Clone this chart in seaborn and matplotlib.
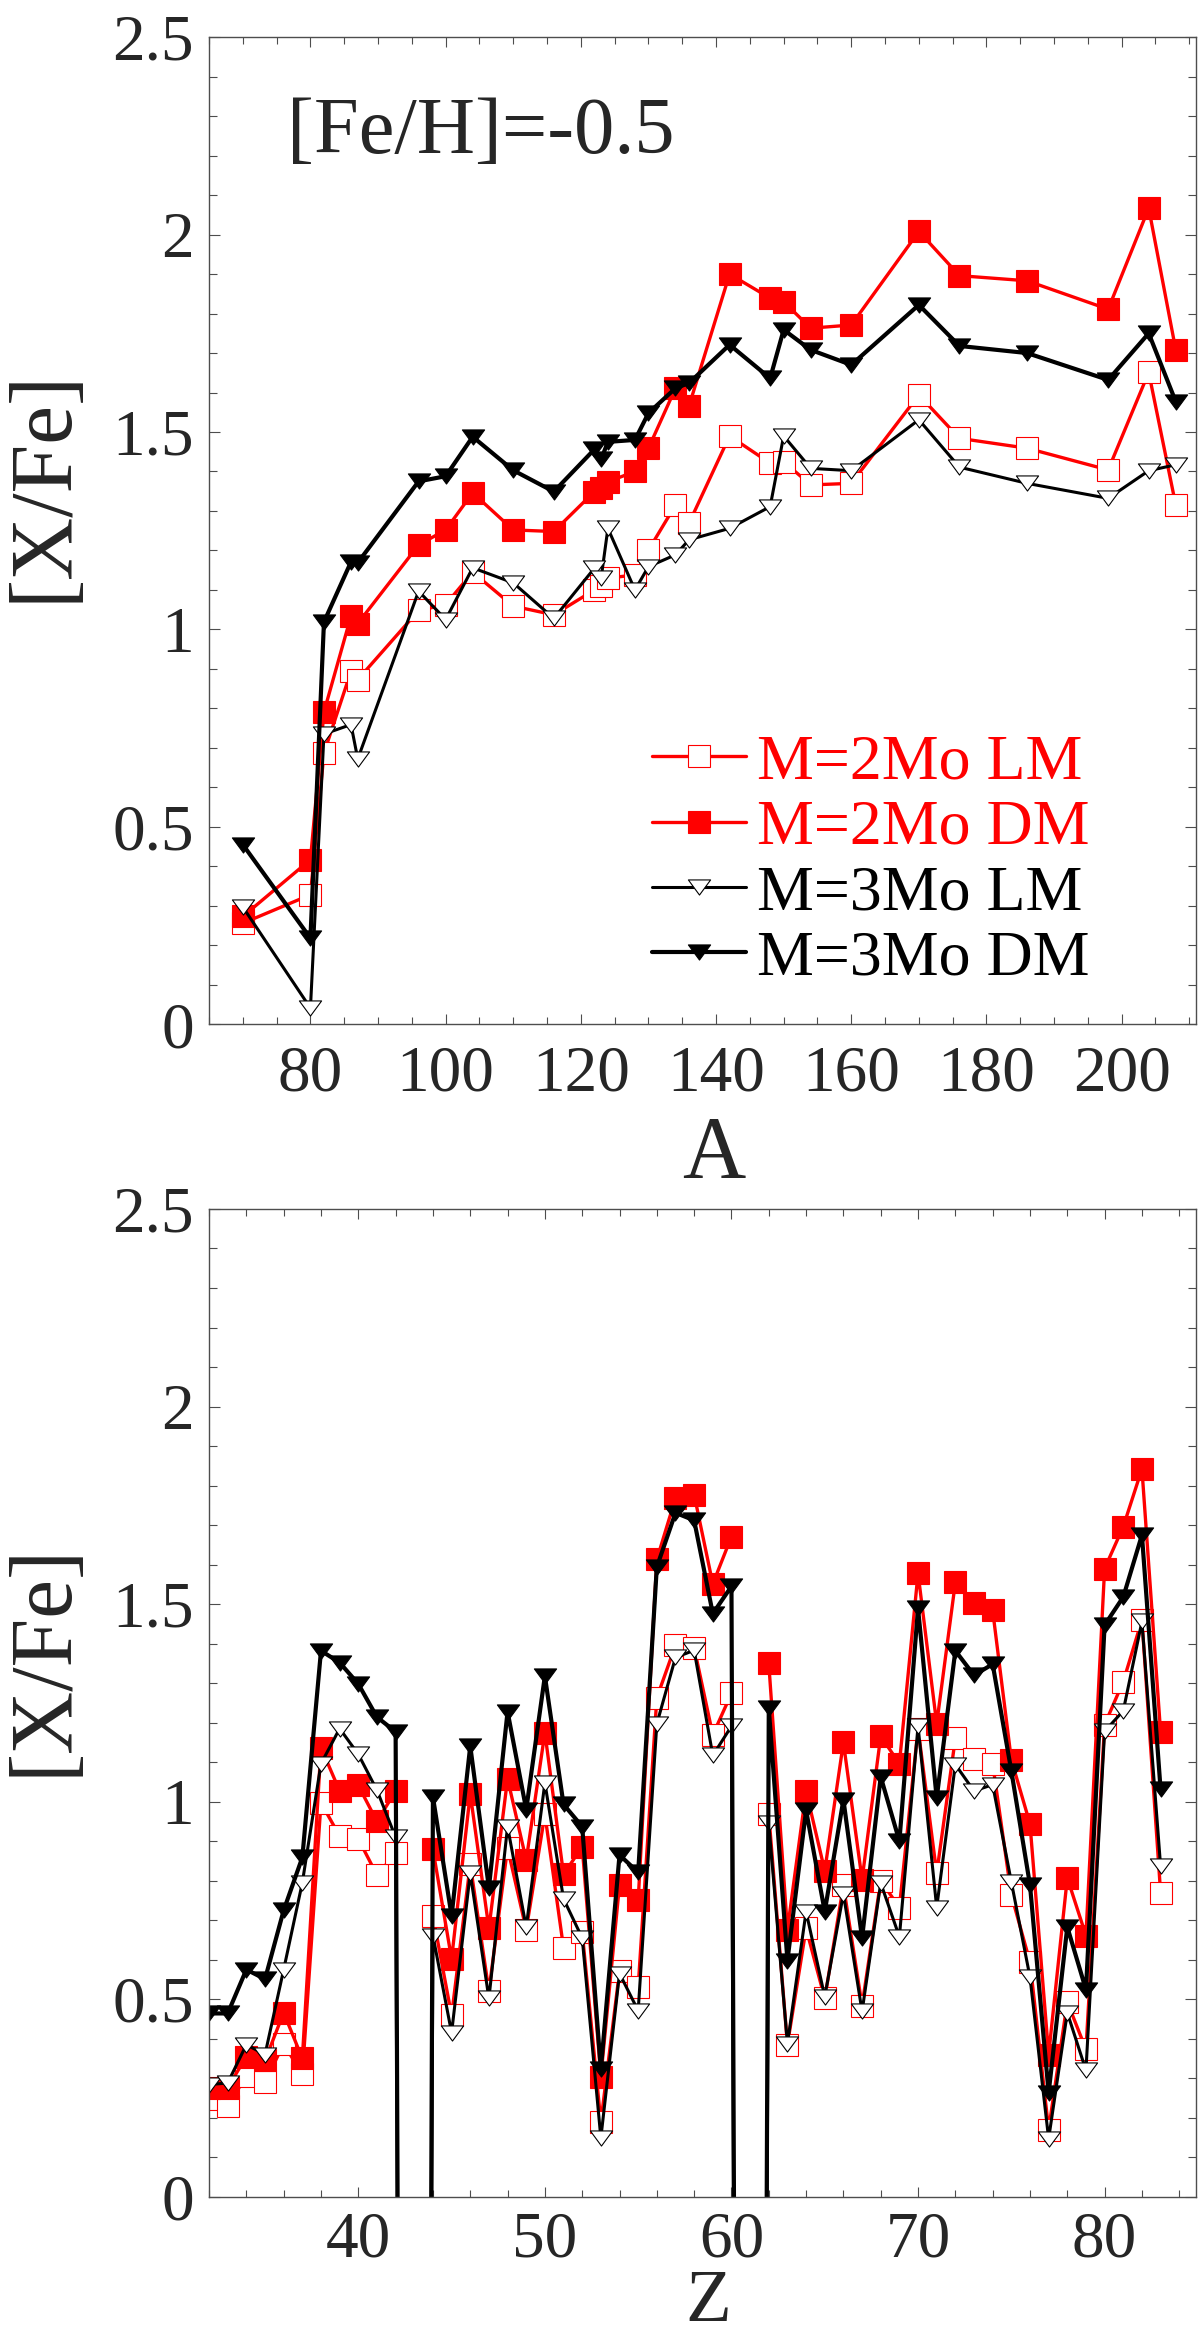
import numpy as np
import pandas as pd
import matplotlib
matplotlib.use("Agg")
import matplotlib.pyplot as plt
from matplotlib.path import Path
from matplotlib.ticker import MultipleLocator, FormatStrFormatter
import seaborn as sns

# panel superior: isotopos s-only (A)
masas = [70, 80, 82, 86, 87, 96, 100, 104, 110, 116, 122, 123, 124, 128, 130,
         134, 136, 142, 148, 150, 154, 160, 170, 176, 186, 198, 204, 208]
a_m2_lm = [0.256, 0.328, 0.687, 0.894, 0.873, 1.048, 1.063, 1.145, 1.059, 1.037,
           1.100, 1.110, 1.130, 1.138, 1.201, 1.315, 1.269, 1.490, 1.421, 1.425,
           1.366, 1.370, 1.594, 1.484, 1.459, 1.404, 1.651, 1.315]
a_m2_dm = [0.273, 0.417, 0.791, 1.034, 1.015, 1.214, 1.252, 1.346, 1.252, 1.248,
           1.349, 1.357, 1.374, 1.400, 1.459, 1.611, 1.566, 1.900, 1.839, 1.830,
           1.763, 1.771, 2.008, 1.896, 1.883, 1.811, 2.067, 1.708]
a_m3_lm = [0.297, 0.041, 0.735, 0.759, 0.672, 1.097, 1.025, 1.156, 1.118, 1.028,
           1.155, 1.130, 1.256, 1.100, 1.159, 1.189, 1.227, 1.256, 1.311, 1.490,
           1.408, 1.402, 1.531, 1.411, 1.370, 1.332, 1.402, 1.417]
a_m3_dm = [0.455, 0.218, 1.019, 1.171, 1.169, 1.375, 1.388, 1.488, 1.403, 1.349,
           1.456, 1.431, 1.475, 1.480, 1.548, 1.611, 1.624, 1.721, 1.636, 1.759,
           1.708, 1.670, 1.822, 1.718, 1.700, 1.632, 1.750, 1.577]

# panel inferior: elementos (Z = 32 ... 83); Tc (43) y Pm (61) sin dato
nan = np.nan
z_vals = list(range(32, 84))
z_m2_lm = [0.247, 0.230, 0.306, 0.290, 0.387, 0.310, 0.997, 0.913, 0.906, 0.814,
           0.869, nan, 0.711, 0.459, 0.841, 0.521, 0.883, 0.676, 0.968, 0.630,
           0.670, 0.189, 0.571, 0.530, 1.263, 1.396, 1.390, 1.169, 1.274, nan,
           0.968, 0.385, 0.679, 0.502, 0.788, 0.484, 0.800, 0.732, 1.185, 0.819,
           1.160, 1.109, 1.096, 0.764, 0.594, 0.170, 0.493, 0.373, 1.195, 1.304,
           1.460, 0.770]
z_m2_dm = [0.276, 0.276, 0.355, 0.345, 0.466, 0.350, 1.137, 1.027, 1.041, 0.950,
           1.027, nan, 0.879, 0.602, 1.020, 0.679, 1.058, 0.852, 1.175, 0.816,
           0.886, 0.304, 0.790, 0.750, 1.613, 1.768, 1.777, 1.551, 1.671, nan,
           1.350, 0.676, 1.027, 0.825, 1.150, 0.803, 1.166, 1.096, 1.578, 1.197,
           1.555, 1.503, 1.484, 1.106, 0.944, 0.360, 0.807, 0.661, 1.590, 1.696,
           1.842, 1.176]
z_m3_lm = [0.284, 0.288, 0.385, 0.360, 0.575, 0.795, 1.096, 1.185, 1.120, 1.029,
           0.910, -10.0, 0.661, 0.415, 0.819, 0.502, 0.937, 0.682, 1.048, 0.754,
           0.655, 0.149, 0.565, 0.471, 1.197, 1.365, 1.383, 1.117, 1.191, -10.0,
           0.945, 0.387, 0.722, 0.506, 0.767, 0.469, 0.794, 0.658, 1.191, 0.732,
           1.094, 1.027, 1.043, 0.797, 0.556, 0.147, 0.466, 0.320, 1.178, 1.230,
           1.456, 0.837]
z_m3_dm = [0.464, 0.464, 0.575, 0.551, 0.725, 0.859, 1.382, 1.352, 1.298, 1.214,
           1.177, -10.0, 1.012, 0.711, 1.141, 0.782, 1.228, 0.980, 1.318, 0.993,
           0.937, 0.323, 0.865, 0.821, 1.594, 1.731, 1.712, 1.476, 1.545, -10.0,
           1.237, 0.598, 0.978, 0.722, 1.005, 0.655, 1.063, 0.900, 1.489, 1.009,
           1.382, 1.320, 1.348, 1.078, 0.789, 0.263, 0.683, 0.524, 1.447, 1.518,
           1.675, 1.031]

etiquetas = ["M=2Mo LM", "M=2Mo DM", "M=3Mo LM", "M=3Mo DM"]
colores = ["#ff0000", "#ff0000", "black", "black"]

sns.set_style("ticks")
plt.rcParams["font.family"] = ["Liberation Serif", "DejaVu Serif"]

# triangulo invertido algo achatado
tri = Path([(-1, 0.68), (1, 0.68), (0, -0.68), (-1, 0.68)], closed=True)
estilos = [
    dict(marker="s", markersize=15.5, markerfacecolor="white", markeredgecolor="#ff0000", markeredgewidth=0.8, linewidth=2.4),
    dict(marker="s", markersize=15.5, markerfacecolor="#ff0000", markeredgecolor="#ff0000", markeredgewidth=0.8, linewidth=2.4),
    dict(marker=tri, markersize=16, markerfacecolor="white", markeredgecolor="black", markeredgewidth=0.8, linewidth=2.2),
    dict(marker=tri, markersize=16, markerfacecolor="black", markeredgecolor="black", markeredgewidth=0.8, linewidth=3.0),
]


def graficar(ax, x, series, pad_x=15):
    for serie, etiqueta, color, estilo in zip(series, etiquetas, colores, estilos):
        df = pd.DataFrame({"x": x, "y": serie})
        df["tramo"] = df["y"].isna().cumsum()
        df = df.dropna()
        sns.lineplot(data=df, x="x", y="y", units="tramo", estimator=None, sort=False,
                     color=color, label=etiqueta, legend=False, ax=ax, **estilo)
    ax.set_ylim(0, 2.5)
    ax.yaxis.set_major_locator(MultipleLocator(0.5))
    ax.yaxis.set_minor_locator(MultipleLocator(0.1))
    ax.yaxis.set_major_formatter(FormatStrFormatter("%g"))
    ax.tick_params(which="both", direction="in", top=True, right=True,
                   width=0.8, color="0.3", labelsize=47)
    ax.tick_params(axis="x", which="major", length=7, pad=pad_x)
    ax.tick_params(axis="x", which="minor", length=5)
    ax.tick_params(axis="y", which="major", length=8, pad=11)
    ax.tick_params(axis="y", which="minor", length=6)
    for s in ax.spines.values():
        s.set_linewidth(1.0)
        s.set_color("0.3")


fig = plt.figure(figsize=(12, 23.38), dpi=100)
ax1 = fig.add_axes([0.1742, 0.5619, 0.8225, 0.4222])
ax2 = fig.add_axes([0.1742, 0.0604, 0.8225, 0.4225])

graficar(ax1, masas, [a_m2_lm, a_m2_dm, a_m3_lm, a_m3_dm])
ax1.set_xlim(65, 211)
ax1.xaxis.set_major_locator(MultipleLocator(20))
ax1.xaxis.set_minor_locator(MultipleLocator(5))
ax1.set_xlabel("A", fontsize=63, va="top")
ax1.xaxis.set_label_coords(0.511, -0.092)
ax1.set_ylabel("[X/Fe]", fontsize=63, va="center")
ax1.yaxis.set_label_coords(-0.167, 0.546)
ax1.text(0.079, 0.883, "[Fe/H]=-0.5", transform=ax1.transAxes, fontsize=58,
         ha="left", va="baseline")

handles, labels = ax1.get_legend_handles_labels()
unicos = dict(zip(labels[::-1], handles[::-1]))
ax1.legend([unicos[e] for e in etiquetas], etiquetas, loc="upper left",
           bbox_to_anchor=(0.449, 0.294), frameon=False, fontsize=46,
           labelcolor=colores, handlelength=1.47, handletextpad=0.17,
           labelspacing=0.1, borderpad=0, borderaxespad=0)

graficar(ax2, z_vals, [z_m2_lm, z_m2_dm, z_m3_lm, z_m3_dm], pad_x=10)
ax2.set_xlim(32, 84.9)
ax2.xaxis.set_major_locator(MultipleLocator(10))
ax2.xaxis.set_minor_locator(MultipleLocator(2))
ax2.set_xlabel("Z", fontsize=54, va="bottom")
ax2.xaxis.set_label_coords(0.506, -0.1419)
ax2.set_ylabel("[X/Fe]", fontsize=63, va="center")
ax2.yaxis.set_label_coords(-0.167, 0.544)

fig.savefig("out.png", dpi=100)
plt.close(fig)
